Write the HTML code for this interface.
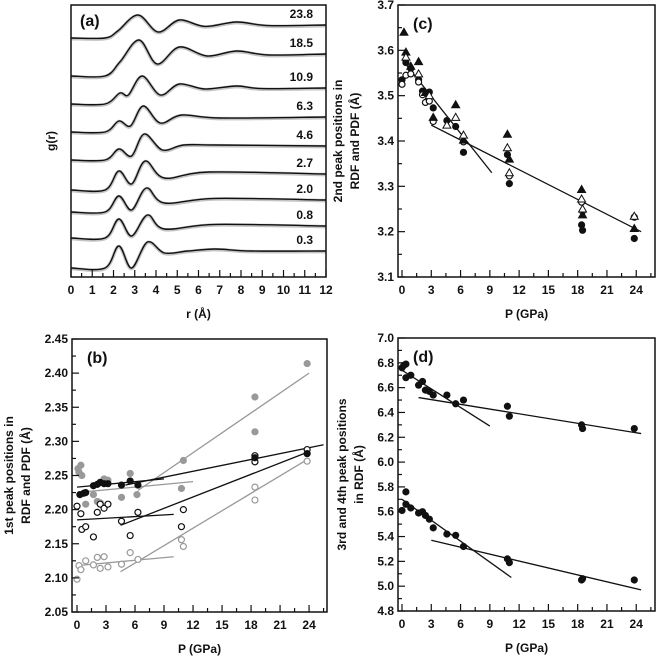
<!DOCTYPE html>
<html><head><meta charset="utf-8">
<style>
html,body{margin:0;padding:0;background:#fff;}
svg{display:block;font-family:"Liberation Sans",Arial,sans-serif;font-weight:bold;}
</style></head>
<body>
<svg id="fig" width="657" height="658" viewBox="0 0 657 658" xmlns="http://www.w3.org/2000/svg"></svg>
<script>
// ---------- Panel (a) data ----------
const aLabels = ["23.8","18.5","10.9","6.3","4.6","2.7","2.0","0.8","0.3"];
const aPlateauY = [25,54,88,117,146,174,200,226,251];
const aR = [
 [0,1.6,2.2,3.15,4.1,5.1,6.3,7.8,9.3,12],
 [0,1.6,2.3,3.2,4.05,5.1,6.4,7.8,9.3,12],
 [0,1.6,2.3,2.7,3.35,4.2,5.1,6.3,7.8,9,12],
 [0,1.6,2.25,2.8,3.4,4.2,5.2,7,12],
 [0,1.6,2.25,2.85,3.45,4.3,5.3,6.8,12],
 [0,1.6,2.25,2.85,3.5,4.4,6.5,12],
 [0,1.6,2.25,2.85,3.55,4.4,6.8,12],
 [0,1.6,2.25,2.85,3.6,4.4,6.8,12],
 [0,1.6,2.25,2.85,3.6,4.4,5.5,6.8,8.5,12]
];
const aG = [
 [0.35,0.35,0.7,1.5,0.65,1.25,0.93,1.15,0.97,1],
 [-0.1,-0.1,0.6,1.7,0.5,1.35,0.9,1.15,0.95,1],
 [0.2,0.2,0.75,0.65,1.6,0.65,1.2,0.95,1.1,0.97,1],
 [0.25,0.25,0.8,0.55,1.55,0.7,1.1,0.95,1],
 [0.3,0.3,0.85,0.5,1.6,0.8,1.05,1.05,1],
 [0.2,0.2,1.15,0.5,1.65,0.8,1.1,1],
 [0.4,0.4,1.2,0.5,1.6,0.85,1.08,1],
 [0.4,0.4,1.35,0.5,1.55,0.85,1.08,1],
 [0.15,0.15,1.25,0.15,1.45,0.9,1.0,1.1,1.0,1]
];
// ---------- Panel (b) data ----------
const bGrayFilledP = [0.1,0.2,0.4,0.5,0.9,1.7,2.1,2.4,2.8,3.2,4.6,5.5,6.2,11,10.8,18.4,18.4,23.8];
const bGrayFilledV = [2.26,2.255,2.265,2.25,2.208,2.222,2.212,2.21,2.245,2.243,2.218,2.253,2.222,2.272,2.231,2.365,2.314,2.414];
const bBlackFilledP = [0.3,0.7,0.9,1.7,2.1,2.4,2.8,3.2,4.6,5.5,6.3,18.4,23.8];
const bBlackFilledV = [2.222,2.224,2.225,2.235,2.237,2.24,2.238,2.238,2.236,2.242,2.236,2.276,2.282];
const bBlackOpenP = [0,0.4,0.5,0.9,1.7,2.1,2.4,2.8,3.2,4.6,5.5,6.3,10.8,11,18.4,18.4,23.8];
const bBlackOpenV = [2.205,2.194,2.171,2.175,2.16,2.196,2.208,2.202,2.208,2.183,2.162,2.196,2.175,2.2,2.279,2.27,2.288];
const bGrayOpenP = [0,0.2,0.4,0.9,1.7,2.1,2.4,2.8,3.2,4.6,5.5,6.3,10.8,11,18.4,18.4,23.8];
const bGrayOpenV = [2.098,2.118,2.112,2.125,2.119,2.13,2.114,2.131,2.116,2.12,2.137,2.127,2.156,2.146,2.233,2.214,2.271];
const bFitGray = [[0,2.225,12,2.241],[6.3,2.228,24,2.40],[0,2.118,10,2.131],[4.5,2.109,24,2.275]];
const bFitBlack = [[0,2.233,9,2.245],[5,2.236,25.5,2.295],[0,2.185,10,2.193],[4.5,2.177,24,2.285]];
const bYTicks = ["2.05","2.10","2.15","2.20","2.25","2.30","2.35","2.40","2.45"];
const pTicks = [0,3,6,9,12,15,18,21,24];
// ---------- Panel (c) data ----------
const cFilledCircP = [0,0.4,0.9,1.7,2.1,2.4,2.8,3.2,4.6,5.5,6.3,10.8,11,18.4,18.5,23.8];
const cFilledCircV = [3.535,3.573,3.56,3.535,3.51,3.505,3.508,3.473,3.445,3.432,3.375,3.37,3.306,3.215,3.203,3.185];
const cOpenCircP = [0,0.4,0.9,1.7,2.1,2.4,2.8,3.2,6.3,11,18.4,18.5,23.8];
const cOpenCircV = [3.525,3.545,3.548,3.53,3.502,3.485,3.488,3.443,3.398,3.323,3.265,3.245,3.232];
const cFilledTriP = [0.2,0.4,0.9,1.7,2.4,3.2,5.5,6.3,10.8,11,18.4,18.5,23.8];
const cFilledTriV = [3.64,3.596,3.565,3.575,3.507,3.452,3.48,3.402,3.415,3.36,3.293,3.237,3.207];
const cOpenTriP = [0.4,1.7,2.8,4.6,5.5,6.3,10.8,11,18.4,18.5,23.8];
const cOpenTriV = [3.585,3.548,3.5,3.435,3.452,3.413,3.385,3.33,3.272,3.25,3.234];
const cFits = [[0,3.58,9.2,3.33],[3,3.435,24.5,3.20]];
const cYTicks = ["3.1","3.2","3.3","3.4","3.5","3.6","3.7"];
// ---------- Panel (d) data ----------
const dUpperP = [0,0.2,0.4,0.4,0.9,1.7,2.1,2.4,2.8,3.2,4.6,5.5,6.3,10.8,11,18.4,18.5,23.8];
const dUpperV = [6.76,6.78,6.79,6.68,6.70,6.62,6.65,6.58,6.57,6.54,6.54,6.47,6.50,6.45,6.37,6.30,6.27,6.27];
const dLowerP = [0,0.4,0.4,0.9,1.7,2.1,2.4,2.8,3.2,4.6,5.5,6.3,10.8,11,18.4,18.5,23.8];
const dLowerV = [5.61,5.76,5.66,5.63,5.59,5.60,5.57,5.54,5.47,5.42,5.41,5.32,5.22,5.19,5.05,5.06,5.05];
const dFits = [[0,6.74,9,6.29],[1.7,6.52,24.5,6.23],[0,5.70,11.2,5.07],[3,5.37,24.5,4.97]];
const dYTicks = ["4.8","5.0","5.2","5.4","5.6","5.8","6.0","6.2","6.4","6.6","6.8","7.0"];

const NS="http://www.w3.org/2000/svg";
const svg=document.getElementById('fig');
function el(tag,attrs,parent){const e=document.createElementNS(NS,tag);for(const k in attrs)e.setAttribute(k,attrs[k]);(parent||svg).appendChild(e);return e;}
function txt(s,x,y,size,anchor,parent,name){const t=el('text',{x:x,y:y,'font-size':size,'text-anchor':anchor||'middle',fill:'#111'},parent);t.textContent=s;


return t;}

// ---------- Panel (a) ----------
(function(){
 const g=el('g',{});
 
 
 const L=71,R=326,T=5,B=277;
 const sx=r=>L+(r/12)*(R-L);
 const scaleY=20;
 function catmull(pts){let d='M'+pts[0][0]+','+pts[0][1];
  for(let i=0;i<pts.length-1;i++){const p0=pts[Math.max(0,i-1)],p1=pts[i],p2=pts[i+1],p3=pts[Math.min(pts.length-1,i+2)];
   d+=' C'+(p1[0]+(p2[0]-p0[0])/6)+','+(p1[1]+(p2[1]-p0[1])/6)+' '+(p2[0]-(p3[0]-p1[0])/6)+','+(p2[1]-(p3[1]-p1[1])/6)+' '+p2[0]+','+p2[1];}
  return d;}
 aLabels.forEach((lab,i)=>{
  const pts=aR[i].map((r,j)=>[sx(r),aPlateauY[i]-(aG[i][j]-1)*scaleY]);
  const d=catmull(pts);
  const gp=el('path',{d:d,fill:'none',stroke:'#c4c4c4','stroke-width':3.5,transform:'translate(0,0.6)'},g);
  
  
  const bp=el('path',{d:d,fill:'none',stroke:'#111','stroke-width':1.4},g);
  
  
  txt(lab,313,aPlateauY[i]-7,12,'end',g,'pressure-label-'+lab);
 });
 const box=el('rect',{x:L,y:T,width:R-L,height:B-T,fill:'none',stroke:'#111','stroke-width':1.5},g);
 
 
 for(let r=0;r<=12;r+=0.5){const x=sx(r);el('line',{x1:x,y1:B,x2:x,y2:B-(r%1===0?7:4),stroke:'#111','stroke-width':1.2},g);}
 for(let r=0;r<=12;r++){txt(String(r),sx(r),294,12,'middle',g,'x-tick-label');}
 txt('r (Å)',(L+R)/2,318,12,'middle',g,'x-axis-title');
 const yl=txt('g(r)',0,0,12,'middle',g,'y-axis-title');yl.setAttribute('transform','translate(55,141) rotate(-90)');
 txt('(a)',80,26,16,'start',g,'panel-label');
})();

function scatterPanel(cfg){
 const g=el('g',{});
 
 
 const {L,R,T,B,x0,xs,ymin,ymax}=cfg;
 const sx=p=>x0+p*xs;
 const sy=v=>B-(v-ymin)/(ymax-ymin)*(B-T);
 cfg.lines.forEach(l=>{const ln=el('line',{x1:sx(l[0]),y1:sy(l[1]),x2:sx(l[2]),y2:sy(l[3]),stroke:l[4],'stroke-width':1.3},g);
  
  });
 cfg.series.forEach(s=>{
  s.P.forEach((p,i)=>{
   const x=sx(p),y=sy(s.V[i]);let m;
   if(s.shape==='c'){m=el('circle',{cx:x,cy:y,r:3,fill:s.fill,stroke:s.stroke,'stroke-width':1.2},g);}
   else{const h=4;m=el('polygon',{points:`${x},${y-h} ${x-h},${y+h*0.75} ${x+h},${y+h*0.75}`,fill:s.fill,stroke:s.stroke,'stroke-width':1},g);}
   
   
  });
 });
 const box=el('rect',{x:L,y:T,width:R-L,height:B-T,fill:'none',stroke:'#111','stroke-width':1.5},g);
 
 
 for(let p=0;p<=25.5;p+=1.5){const x=sx(p);el('line',{x1:x,y1:B,x2:x,y2:B-(p%3===0?7:4),stroke:'#111','stroke-width':1.2},g);}
 pTicks.forEach(p=>txt(String(p),sx(p),B+17,12,'middle',g,'x-tick-label'));
 const n=cfg.yTicks.length;
 cfg.yTicks.forEach((t,i)=>{const v=parseFloat(t);const y=sy(v);
  el('line',{x1:L,y1:y,x2:L+7,y2:y,stroke:'#111','stroke-width':1.2},g);
  if(i<n-1){const ym=sy(v+(ymax-ymin)/(n-1)/2);el('line',{x1:L,y1:ym,x2:L+4,y2:ym,stroke:'#111','stroke-width':1.2},g);}
  txt(t,L-4,y+4,12,'end',g,'y-tick-label');});
 txt('P (GPa)',(L+R)/2,B+41,12,'middle',g,'x-axis-title');
 cfg.ylab.forEach((s,i)=>{const t=txt(s,0,0,12,'middle',g,'y-axis-title');t.setAttribute('transform',`translate(${cfg.ylabX+i*17},${(T+B)/2}) rotate(-90)`);});
 txt(cfg.label,L+15,T+24,16,'start',g,'panel-label');
}

scatterPanel({name:'panel-b',L:72,R:327,T:339,B:612,x0:77,xs:9.67,ymin:2.05,ymax:2.45,yTicks:bYTicks,label:'(b)',
 ylab:['1st peak positions in','RDF and PDF (Å)'],ylabX:13,
 lines:bFitGray.map(l=>l.concat(['#999'])).concat(bFitBlack.map(l=>l.concat(['#111']))),
 series:[{P:bGrayFilledP,V:bGrayFilledV,shape:'c',fill:'#999',stroke:'#999',name:'gray-filled-point'},
  {P:bGrayOpenP,V:bGrayOpenV,shape:'c',fill:'#fff',stroke:'#999',name:'gray-open-point'},
  {P:bBlackOpenP,V:bBlackOpenV,shape:'c',fill:'#fff',stroke:'#111',name:'black-open-point'},
  {P:bBlackFilledP,V:bBlackFilledV,shape:'c',fill:'#111',stroke:'#111',name:'black-filled-point'}]});

scatterPanel({name:'panel-c',L:398,R:655,T:5,B:277,x0:402,xs:9.76,ymin:3.1,ymax:3.7,yTicks:cYTicks,label:'(c)',
 ylab:['2nd peak positions in','RDF and PDF (Å)'],ylabX:342,
 lines:cFits.map(l=>l.concat(['#111'])),
 series:[{P:cFilledCircP,V:cFilledCircV,shape:'c',fill:'#111',stroke:'#111',name:'filled-circle-point'},
  {P:cOpenCircP,V:cOpenCircV,shape:'c',fill:'#fff',stroke:'#111',name:'open-circle-point'},
  {P:cFilledTriP,V:cFilledTriV,shape:'t',fill:'#111',stroke:'#111',name:'filled-triangle-point'},
  {P:cOpenTriP,V:cOpenTriV,shape:'t',fill:'#fff',stroke:'#111',name:'open-triangle-point'}]});

scatterPanel({name:'panel-d',L:398,R:655,T:338,B:611,x0:402,xs:9.76,ymin:4.8,ymax:7.0,yTicks:dYTicks,label:'(d)',
 ylab:['3rd and 4th peak positions','in RDF (Å)'],ylabX:346,
 lines:dFits.map(l=>l.concat(['#111'])),
 series:[{P:dUpperP,V:dUpperV,shape:'c',fill:'#111',stroke:'#111',name:'fourth-peak-point'},
  {P:dLowerP,V:dLowerV,shape:'c',fill:'#111',stroke:'#111',name:'third-peak-point'}]});
</script>
</body></html>
